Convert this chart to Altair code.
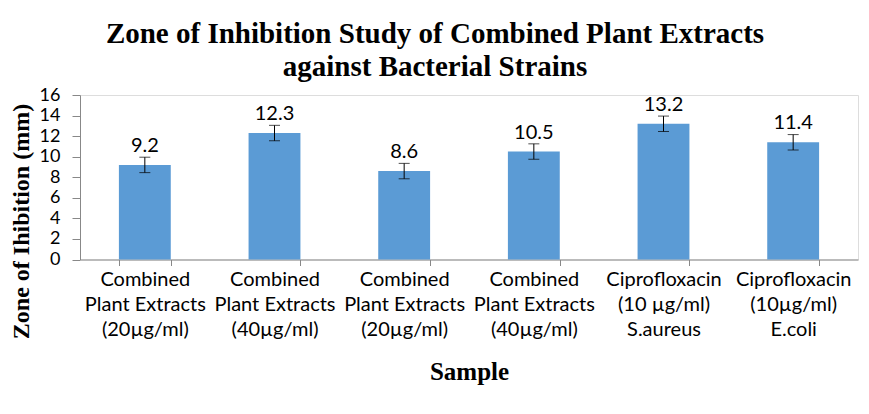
import json
import altair as alt
import pandas as pd

labels = [
    ["Combined", "Plant Extracts", "(20µg/ml)"],
    ["Combined", "Plant Extracts", "(40µg/ml)"],
    ["Combined", "Plant Extracts", "(20µg/ml)"],
    ["Combined", "Plant Extracts", "(40µg/ml)"],
    ["Ciprofloxacin", "(10 µg/ml)", "S.aureus"],
    ["Ciprofloxacin", "(10µg/ml)", "E.coli"],
]
values = [9.2, 12.3, 8.6, 10.5, 13.2, 11.4]
errors = [0.75, 0.75, 0.75, 0.75, 0.75, 0.75]
y_ticks = [0, 2, 4, 6, 8, 10, 12, 14, 16]

df = pd.DataFrame({
    "idx": list(range(len(values))),
    "value": values,
    "lo": [v - e for v, e in zip(values, errors)],
    "hi": [v + e for v, e in zip(values, errors)],
    "txt": [f"{v:.1f}" for v in values],
})

label_expr = json.dumps(labels) + "[datum.value]"

x_axis = alt.Axis(
    title="Sample",
    labelExpr=label_expr,
    labelAngle=0,
    labelFont="Lato",
    labelFontSize=20,
    labelLineHeight=25,
    labelColor="#000000",
    labelPadding=4,
    grid=False,
    tickBand="extent",
    tickSize=6,
    tickColor="#888888",
    domainColor="#888888",
    titleFont="Liberation Serif",
    titleFontSize=25,
    titleFontWeight="bold",
    titleColor="#000000",
    titleY=112,
    titleBaseline="middle",
)
x_scale = alt.Scale(paddingInner=0.6, paddingOuter=0.3)

y_axis = alt.Axis(
    title="Zone of Ihibition (mm)",
    values=y_ticks,
    tickCount=9,
    grid=False,
    labelOverlap=False,
    labelFont="Lato",
    labelFontSize=18,
    labelColor="#000000",
    labelPadding=12,
    tickSize=8,
    tickColor="#888888",
    domainColor="#888888",
    titleFont="Liberation Serif",
    titleFontSize=24,
    titleFontWeight="bold",
    titleColor="#000000",
    titleX=-59,
    titleY=126,
    titleBaseline="middle",
)
y_scale = alt.Scale(domain=[0, 16], nice=False)


def X():
    return alt.X("idx:O", scale=x_scale, axis=x_axis)


def Y(field):
    return alt.Y(field, scale=y_scale, axis=y_axis)


bars = alt.Chart(df).mark_bar(color="#5B9BD5").encode(x=X(), y=Y("value:Q"))
rules = alt.Chart(df).mark_rule(color="#000000", strokeWidth=1).encode(
    x=X(), y=Y("lo:Q"), y2="hi:Q"
)
caps_lo = alt.Chart(df).mark_tick(color="#000000", thickness=1, size=11).encode(
    x=X(), y=Y("lo:Q")
)
caps_hi = alt.Chart(df).mark_tick(color="#000000", thickness=1, size=11).encode(
    x=X(), y=Y("hi:Q")
)
texts = alt.Chart(df).mark_text(
    font="Lato", fontSize=20, color="#000000", baseline="middle", dy=-19
).encode(x=X(), y=Y("value:Q"), text="txt:N")

chart = alt.layer(bars, rules, caps_lo, caps_hi, texts).properties(
    width=778,
    height=164.5,
    autosize=alt.AutoSizeParams(type="none"),
    padding={"left": 72, "top": 87, "right": 3, "bottom": 140},
    title=alt.TitleParams(
        text=["Zone of Inhibition Study of Combined Plant Extracts", "against Bacterial Strains"],
        font="Liberation Serif",
        fontSize=29,
        fontWeight="bold",
        color="#000000",
        lineHeight=33,
        anchor="middle",
        dx=-34,
        offset=4,
    ),
).configure_view(stroke=None).configure(background="#ffffff")

chart.save("out.html", embed_options={"renderer": "svg", "actions": False})
